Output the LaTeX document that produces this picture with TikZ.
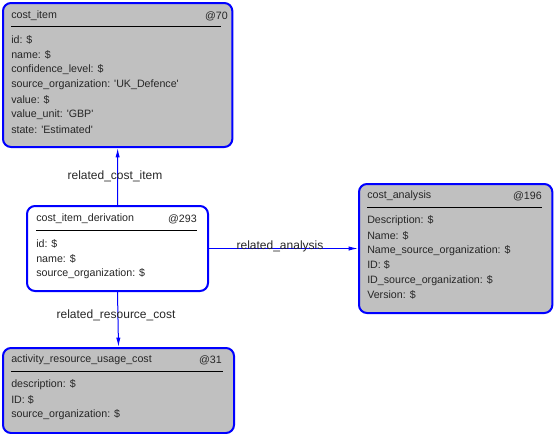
\documentclass[tikz,border=0pt]{standalone}
\usepackage{fontspec}
\setmainfont{Liberation Sans}
\usetikzlibrary{positioning,arrows.meta}

\definecolor{boxgray}{HTML}{C0C0C0}
\definecolor{linkblue}{HTML}{0000FF}

\tikzset{
  entity/.style={draw=linkblue, line width=1.5pt, rounded corners=6pt},
  txt/.style={anchor=west, inner sep=0pt, yshift=-1.5pt, font=\fontsize{8pt}{9pt}\selectfont, text=black!85},
  idtxt/.style={anchor=east, inner sep=0pt, yshift=-1.5pt, font=\fontsize{8pt}{9pt}\selectfont, text=black!85},
  link/.style={draw=linkblue, line width=0.75pt, -{Latex[length=7pt,width=3.2pt]}},
  linklabel/.style={inner sep=0pt, yshift=-1.5pt, font=\fontsize{9pt}{10pt}\selectfont, text=black!85}
}

\begin{document}
\begin{tikzpicture}[x=0.75pt,y=-0.75pt]
\useasboundingbox (0,0) rectangle (554,433);

%Draw the entity boxes
\node[entity, fill=boxgray, minimum width=172pt, minimum height=108pt, anchor=north west] (costitem) at (2,2) {};
\node[entity, fill=white, minimum width=135.75pt, minimum height=63.75pt, anchor=north west] (derivation) at (26,205) {};
\node[entity, fill=boxgray, minimum width=145pt, minimum height=96.75pt, anchor=north west] (analysis) at (358,183) {};
\node[entity, fill=boxgray, minimum width=173.25pt, minimum height=63.75pt, anchor=north west] (usagecost) at (2,347) {};

%Titles and rules
\node[txt] (costitemtitle) at (11,14) {cost\_item};
\node[idtxt] (costitemid) at (228,14) {@70};
\draw[line width=0.75pt] (11,26) -- (221,26);

\node[txt] (derivationtitle) at (36,217) {cost\_item\_derivation};
\node[idtxt] (derivationid) at (197,217) {@293};
\draw[line width=0.75pt] (36,230) -- (197,230);

\node[txt] (analysistitle) at (367,194) {cost\_analysis};
\node[idtxt] (analysisid) at (542,194) {@196};
\draw[line width=0.75pt] (367,207) -- (542,207);

\node[txt] (usagecosttitle) at (11,358) {activity\_resource\_usage\_cost};
\node[idtxt] (usagecostid) at (222,358) {@31};
\draw[line width=0.75pt] (11,371) -- (223,371);

%Attributes
\foreach \t [count=\i from 0] in {id: \$, name: \$, confidence\_level: \$,
    source\_organization: \textquotesingle UK\_Defence\textquotesingle, value: \$,
    value\_unit: \textquotesingle GBP\textquotesingle, state: \textquotesingle Estimated\textquotesingle}
{
	\node[txt] (costitem-\i) at (11,{38+15*\i}) {\t};
}
\foreach \t [count=\i from 0] in {id: \$, name: \$, source\_organization: \$}
{
	\node[txt] (derivation-\i) at (36,{242+15*\i}) {\t};
}
\foreach \t [count=\i from 0] in {Description: \$, Name: \$, Name\_source\_organization: \$,
    ID: \$, ID\_source\_organization: \$, Version: \$}
{
	\node[txt] (analysis-\i) at (367,{219+14.8*\i}) {\t};
}
\foreach \t [count=\i from 0] in {description: \$, ID: \$, source\_organization: \$}
{
	\node[txt] (usagecost-\i) at (11,{383+15*\i}) {\t};
}

%Connectors
\draw[link] (derivation.north) -- (costitem.south);
\draw[link] (derivation.east) -- (analysis.west);
\draw[link] (derivation.south) -- (usagecost.north);

\node[linklabel] (lbl-costitem) at (115,174) {related\_cost\_item};
\node[linklabel] (lbl-analysis) at (280,244) {related\_analysis};
\node[linklabel] (lbl-usagecost) at (116,313) {related\_resource\_cost};
\end{tikzpicture}
\end{document}
